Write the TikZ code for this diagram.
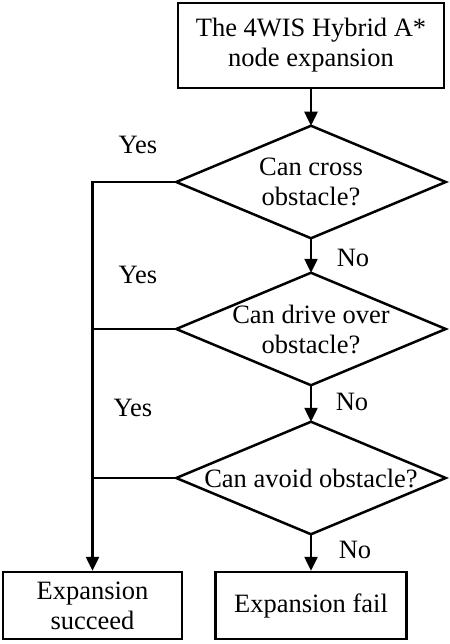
\documentclass[tikz,border=0pt]{standalone}
\usepackage{fontspec}
\setmainfont{Liberation Serif}
\usetikzlibrary{arrows.meta}

\begin{document}
\begin{tikzpicture}[x=1pt,y=-1pt,>={Triangle[length=14pt,width=13pt]},line width=2.5pt,
  box/.style={draw,rectangle,align=center,inner sep=0pt,font=\fontsize{26.5}{30}\selectfont},
  decision/.style={rectangle,align=center,inner sep=0pt,minimum width=267pt,minimum height=110pt,font=\fontsize{26.5}{30}\selectfont},
  lbl/.style={inner sep=0pt,font=\fontsize{26.5}{30}\selectfont}]
\useasboundingbox (0,0) rectangle (449,644);
\node[box,minimum width=266pt,minimum height=85pt] (start) at (311,45.5) {The 4WIS Hybrid A*\\node expansion};
\node[decision] (d1) at (311,182) {Can cross\\obstacle?};
\node[decision] (d2) at (311,329) {Can drive over\\obstacle?};
\node[decision] (d3) at (311,478) {Can avoid obstacle?};
\node[box,minimum width=179pt,minimum height=67pt] (succ) at (92.5,605.5) {Expansion\\succeed};
\node[box,minimum width=191pt,minimum height=67pt] (fail) at (311,605.5) {Expansion fail};
% diamond outlines
\draw (d1.north) -- (d1.east) -- (d1.south) -- (d1.west) -- cycle;
\draw (d2.north) -- (d2.east) -- (d2.south) -- (d2.west) -- cycle;
\draw (d3.north) -- (d3.east) -- (d3.south) -- (d3.west) -- cycle;
% main line
\draw[->] (start.south) -- (d1.north);
\draw[->] (d1.south) -- (d2.north);
\draw[->] (d2.south) -- (d3.north);
\draw[->] (d3.south) -- (fail.north);
% yes branch
\draw[->] (d1.west) -| (succ.north);
\draw (d2.west) -- (succ.north |- d2.west);
\draw (d3.west) -- (succ.north |- d3.west);
\node[lbl] (y1) at (138,145) {Yes};
\node[lbl] (y2) at (138,275) {Yes};
\node[lbl] (y3) at (133,408) {Yes};
\node[lbl] (n1) at (353,258) {No};
\node[lbl] (n2) at (352,402) {No};
\node[lbl] (n3) at (355,550) {No};
\end{tikzpicture}
\end{document}
